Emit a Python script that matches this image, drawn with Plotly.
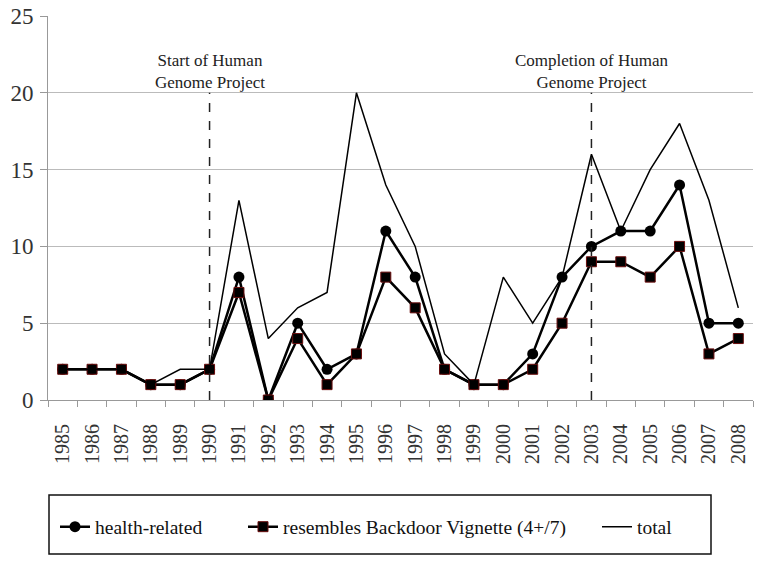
import plotly.graph_objects as go

years = [str(y) for y in range(1985, 2009)]
health = [2, 2, 2, 1, 1, 2, 8, 0, 5, 2, 3, 11, 8, 2, 1, 1, 3, 8, 10, 11, 11, 14, 5, 5]
backdoor = [2, 2, 2, 1, 1, 2, 7, 0, 4, 1, 3, 8, 6, 2, 1, 1, 2, 5, 9, 9, 8, 10, 3, 4]
total = [2, 2, 2, 1, 2, 2, 13, 4, 6, 7, 20, 14, 10, 3, 1, 8, 5, 8, 16, 11, 15, 18, 13, 6]
events = [("1990", "Start of Human<br>Genome Project"),
          ("2003", "Completion of Human<br>Genome Project")]

FONT = "Liberation Serif, Times New Roman, serif"
OFF = 8  # page body margin
W, H = 764 - 2 * OFF, 567 - 2 * OFF
# plot area in screenshot pixels
PL, PR, PT, PB = 48, 753, 16, 400
L, T = PL - OFF, PT - OFF
R = W - (PR - OFF)
B = H - (PB - OFF)
PW = W - L - R
PH = H - T - B


def px_x(p):
    return (p - OFF - L) / PW


def px_y(p):
    return (H - B - (p - OFF)) / PH


fig = go.Figure()
fig.add_trace(go.Scatter(x=years, y=health, name="health-related", mode="lines+markers",
                         line=dict(color="black", width=2.5), legend="legend",
                         marker=dict(symbol="circle", size=11, color="black")))
fig.add_trace(go.Scatter(x=years, y=backdoor, name="resembles Backdoor Vignette (4+/7)",
                         mode="lines+markers", line=dict(color="black", width=2.5),
                         legend="legend2",
                         marker=dict(symbol="square", size=10, color="black",
                                     line=dict(color="#6a0d0d", width=1))))
fig.add_trace(go.Scatter(x=years, y=total, name="total", mode="lines", legend="legend3",
                         line=dict(color="black", width=1.5)))

for yr, txt in events:
    xi = years.index(yr)
    fig.add_shape(type="line", xref="x", yref="y", x0=xi, x1=xi, y0=0, y1=20,
                  line=dict(color="#222", width=1.5, dash="dash"))
    fig.add_annotation(x=xi, y=21.4, xref="x", yref="y", text=txt, showarrow=False,
                       font=dict(family=FONT, size=17, color="#222"), align="center")

# legend box
fig.add_shape(type="rect", xref="paper", yref="paper", x0=px_x(49), x1=px_x(711),
              y0=px_y(554), y1=px_y(495), line=dict(color="#111", width=1.5),
              fillcolor="white", layer="below")

leg_common = dict(orientation="h", yanchor="middle", xanchor="left",
                  font=dict(family=FONT, size=19.5, color="#111"),
                  bgcolor="rgba(0,0,0,0)", borderwidth=0, itemwidth=30)

fig.update_layout(
    width=W, height=H,
    margin=dict(l=L, r=R, t=T, b=B, autoexpand=False),
    paper_bgcolor="white", plot_bgcolor="white",
    font=dict(family=FONT, color="#333"),
    showlegend=True,
    legend=dict(x=px_x(55), y=px_y(527), **leg_common),
    legend2=dict(x=px_x(243), y=px_y(527), **leg_common),
    legend3=dict(x=px_x(597), y=px_y(527), **leg_common),
    xaxis=dict(type="category", tickson="boundaries", ticks="outside", ticklen=6,
               tickcolor="#999", showline=True, linecolor="#999", linewidth=1,
               showgrid=False, tickangle=-90, ticklabelstandoff=10,
               ticksuffix="\u00a0",
               tickfont=dict(family=FONT, size=20, color="#333"),
               range=[-0.5, 23.5]),
    yaxis=dict(range=[0, 25], dtick=5, ticks="outside", ticklen=7, tickcolor="#999",
               showline=True, linecolor="#999", linewidth=1, ticklabelstandoff=2,
               ticklabeloverflow="allow",
               showgrid=True, gridcolor="#bbb", gridwidth=1, zeroline=False,
               tickfont=dict(family=FONT, size=23, color="#333")),
)

fig.write_html("out.html")
